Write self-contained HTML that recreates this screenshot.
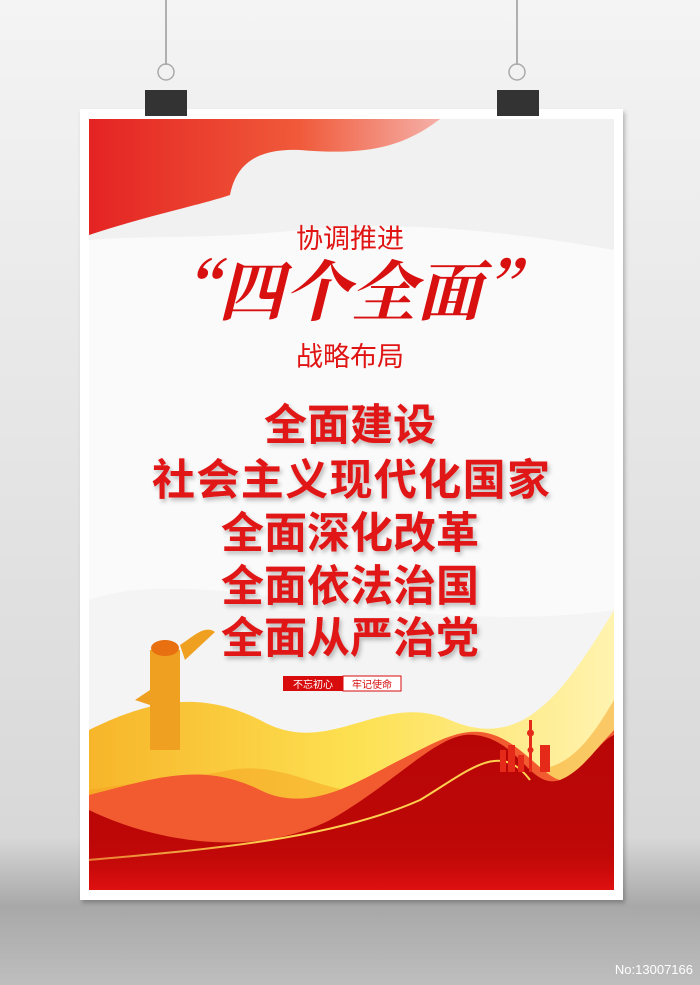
<!DOCTYPE html>
<html><head><meta charset="utf-8">
<style>
html,body{margin:0;padding:0;width:700px;height:985px;overflow:hidden;background:#e8e8e8}
svg{display:block}
.cn{font-family:"Liberation Sans","Noto Sans CJK SC",sans-serif}
</style></head>
<body>
<svg width="700" height="985" viewBox="0 0 700 985">
<defs>
<linearGradient id="bg" x1="0" y1="0" x2="0" y2="1">
<stop offset="0" stop-color="#f4f4f4"/><stop offset="0.85" stop-color="#d8d8d8"/><stop offset="0.92" stop-color="#a8a8a8"/><stop offset="1" stop-color="#bebebe"/>
</linearGradient>
<linearGradient id="flag" x1="0" y1="0" x2="1" y2="0">
<stop offset="0" stop-color="#e42323"/><stop offset="0.6" stop-color="#f05a3a"/><stop offset="1" stop-color="#f5b0a8"/>
</linearGradient>
<linearGradient id="yel" x1="0" y1="0" x2="1" y2="0">
<stop offset="0" stop-color="#f7b52a"/><stop offset="0.5" stop-color="#fde050"/><stop offset="1" stop-color="#fff3b0"/>
</linearGradient>
<linearGradient id="red" x1="0" y1="0" x2="0" y2="1">
<stop offset="0" stop-color="#b80606"/><stop offset="1" stop-color="#c00808"/>
</linearGradient>
<linearGradient id="strip" x1="0" y1="0" x2="0" y2="1">
<stop offset="0" stop-color="#c00808" stop-opacity="0"/><stop offset="1" stop-color="#e01010"/>
</linearGradient>
<filter id="sh"><feDropShadow dx="2" dy="3" stdDeviation="2" flood-color="#000" flood-opacity="0.25"/></filter>
</defs>
<rect width="700" height="985" fill="url(#bg)"/>
<rect x="80" y="109" width="543" height="791" fill="#fff" filter="url(#sh)"/>
<g>
<line x1="166" y1="0" x2="166" y2="65" stroke="#999" stroke-width="1.5"/>
<circle cx="166" cy="72" r="8" fill="none" stroke="#aaa" stroke-width="1.5"/>
<rect x="145" y="90" width="42" height="26" fill="#333"/>
</g>
<g>
<line x1="517" y1="0" x2="517" y2="65" stroke="#999" stroke-width="1.5"/>
<circle cx="517" cy="72" r="8" fill="none" stroke="#aaa" stroke-width="1.5"/>
<rect x="497" y="90" width="42" height="26" fill="#333"/>
</g>
<g>
<rect x="89" y="119" width="525" height="771" fill="#fafafa"/>
<path d="M89 119 H614 V250 C500 230 400 220 300 230 C200 240 150 235 89 240 Z" fill="#ececec" opacity="0.7"/>
<path d="M89 119 H440 C400 150 360 155 300 150 C250 148 235 170 230 195 C200 205 150 215 89 235 Z" fill="url(#flag)"/>
<path d="M89 600 C200 560 400 640 614 610 V890 H89 Z" fill="#f2f2f2" opacity="0.8"/>
<path d="M89 730 C150 700 200 690 260 720 C330 760 380 690 450 720 C520 750 560 700 614 610 V890 H89 Z" fill="url(#yel)"/>
<path d="M89 790 C150 780 180 780 230 770 C290 760 330 800 380 790 C430 780 460 740 500 760 C560 790 590 740 614 700 V890 H89 Z" fill="#f5a020" opacity="0.5"/>
<path d="M89 795 C150 780 200 760 260 790 C310 815 360 780 400 760 C440 740 470 720 505 740 C540 760 560 800 580 770 C595 750 605 740 614 730 V890 H89 Z" fill="#f25a30"/>
<path d="M89 810 C150 840 250 860 330 820 C400 780 440 730 475 735 C520 740 530 790 560 780 C585 770 600 740 614 735 V890 H89 Z" fill="url(#red)"/>
<path d="M89 860 C200 850 330 840 420 800 C470 770 500 740 530 780" fill="none" stroke="#ffd050" stroke-width="2"/>
<rect x="89" y="840" width="525" height="50" fill="url(#strip)"/>
<g fill="#e52a1a">
<rect x="500" y="750" width="6" height="22"/><rect x="508" y="745" width="7" height="27"/><rect x="518" y="755" width="6" height="17"/>
<rect x="529" y="720" width="3" height="52"/><circle cx="530.5" cy="733" r="3.5"/><circle cx="530.5" cy="750" r="3"/>
<rect x="540" y="745" width="10" height="27"/>
</g>
<g>
<rect x="150" y="650" width="30" height="100" fill="#f0a020"/>
<ellipse cx="165" cy="648" rx="14" ry="8" fill="#e87010"/>
<path d="M180 645 C195 635 205 625 215 632 L185 660 Z" fill="#f0a020"/>
<path d="M150 690 L135 700 L150 705 Z" fill="#f0a020"/>
</g>
</g>
<g class="cn" text-anchor="middle" fill="#e11414">
<text x="350" y="248" font-size="27">协调推进</text>
<text x="350" y="315" font-size="66" font-style="italic" font-weight="bold" font-family="'Noto Serif CJK SC',serif" fill="#d81010">“四个全面”</text>
<text x="350" y="366" font-size="27">战略布局</text>
<g font-size="43" font-weight="bold" filter="url(#sh)">
<text x="350" y="440">全面建设</text>
<text x="351" y="495" textLength="398">社会主义现代化国家</text>
<text x="350" y="548">全面深化改革</text>
<text x="350" y="601">全面依法治国</text>
<text x="350" y="653">全面从严治党</text>
</g>
</g>
<g class="cn">
<rect x="283" y="676" width="60" height="15" fill="#d80c0c"/>
<rect x="343" y="676" width="58" height="15" fill="#fff" stroke="#d80c0c" stroke-width="1"/>
<text x="313" y="688" font-size="10" fill="#fff" text-anchor="middle">不忘初心</text>
<text x="372" y="688" font-size="10" fill="#d80c0c" text-anchor="middle">牢记使命</text>
</g>
<text x="693" y="974" font-size="13" fill="#fff" text-anchor="end" font-family="Liberation Sans,sans-serif">No:13007166</text>
</svg>
</body></html>
